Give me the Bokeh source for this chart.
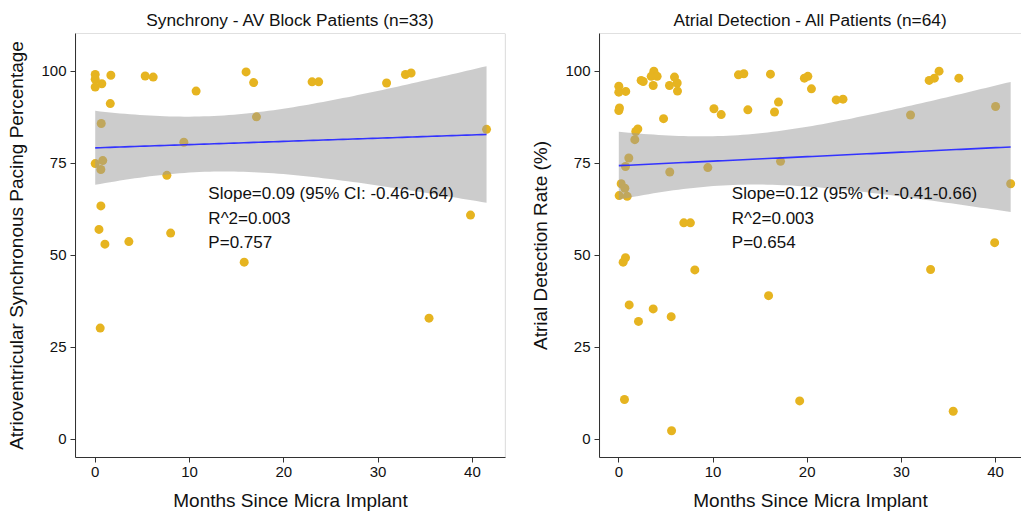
import numpy as np
from bokeh.plotting import figure
from bokeh.layouts import row
from bokeh.models import Range1d, Label, BoxAnnotation
from bokeh.embed import file_html
from bokeh.resources import INLINE

# ---- data: AV block patients (synchrony) ----
av_months = [0.0, 0.0, 0.0, 0.7, 1.66, 5.3, 6.15, 16.0, 16.8, 10.7, 1.6, 0.64, 17.1,
             9.4, 0.0, 0.8, 0.6, 7.6, 0.6, 0.4, 1.03, 3.57, 8.0, 15.8, 0.53, 35.4,
             23.0, 23.7, 30.9, 32.9, 33.5, 41.5, 39.8]
av_pct = [99.1, 97.8, 95.7, 96.6, 98.9, 98.7, 98.4, 99.8, 96.9, 94.6, 91.2, 85.8, 87.6,
          80.7, 74.9, 75.7, 73.3, 71.7, 63.4, 57.0, 53.0, 53.7, 56.0, 48.1, 30.2, 32.9,
          97.1, 97.1, 96.8, 99.1, 99.5, 84.2, 60.9]

# ---- data: all patients (atrial detection) ----
ad_months = [0.0, 0.0, 0.74, 0.07, 0.0, 2.37, 2.59, 3.72, 3.44, 4.07, 3.65, 5.91, 6.2,
             5.38, 6.23, 4.75, 2.02, 1.8, 1.7, 1.06, 0.71, 0.25, 0.64, 0.04, 0.89, 5.41,
             9.45, 10.1, 10.87, 12.7, 13.27, 13.7, 16.1, 16.95, 16.53, 17.17, 19.7, 20.07,
             20.45, 6.9, 7.6,
             23.08, 23.8, 30.97, 32.95, 33.5, 34.0, 36.1, 40.0, 41.6,
             0.46, 0.71, 8.07, 15.9, 33.1, 39.9, 1.1, 3.65, 2.09, 5.56, 0.6, 19.2, 35.5, 5.6]
ad_rate = [95.9, 94.3, 94.5, 90.0, 89.3, 97.5, 97.2, 100.0, 98.6, 98.6, 96.1, 98.4, 96.8,
           96.1, 94.6, 87.1, 84.3, 83.6, 81.4, 76.4, 74.1, 69.4, 68.2, 66.2, 66.0, 72.6,
           73.8, 89.8, 88.2, 99.0, 99.3, 89.5, 99.2, 91.6, 88.9, 75.5, 98.1, 98.6,
           95.2, 58.8, 58.8,
           92.2, 92.4, 88.1, 97.5, 98.1, 100.0, 98.1, 90.4, 69.4,
           48.1, 49.3, 46.0, 39.0, 46.1, 53.4, 36.5, 35.4, 32.0, 33.3, 10.8, 10.4, 7.6, 2.3]

x_ticks = [0, 10, 20, 30, 40]
y_ticks = [0, 25, 50, 75, 100]

av_title = "Synchrony - AV Block Patients (n=33)"
ad_title = "Atrial Detection - All Patients (n=64)"
av_ylabel = "Atrioventricular Synchronous Pacing Percentage"
ad_ylabel = "Atrial Detection Rate (%)"
xlabel = "Months Since Micra Implant"
av_notes = ["Slope=0.09 (95% CI: -0.46-0.64)", "R^2=0.003", "P=0.757"]
ad_notes = ["Slope=0.12 (95% CI: -0.41-0.66)", "R^2=0.003", "P=0.654"]
note_x = 12
note_y = [66.8, 60.0, 53.4]

FONT = "Liberation Sans"


def lm_band(x, y, tq):
    x = np.asarray(x, float)
    y = np.asarray(y, float)
    n = len(x)
    xb = x.mean()
    sxx = ((x - xb) ** 2).sum()
    b = ((x - xb) * (y - y.mean())).sum() / sxx
    a = y.mean() - b * xb
    s = np.sqrt(((y - (a + b * x)) ** 2).sum() / (n - 2))
    xs = np.linspace(x.min(), x.max(), 80)
    yh = a + b * xs
    se = s * np.sqrt(1.0 / n + (xs - xb) ** 2 / sxx)
    return xs, yh, yh - tq * se, yh + tq * se


def panel(xv, yv, tq, title, ylabel, notes, width, mbl, mbr, xr, cropped=False):
    p = figure(width=width, height=513, output_backend="svg", toolbar_location=None,
               x_range=Range1d(*xr), y_range=Range1d(-4.97, 110.24),
               min_border_left=mbl, min_border_right=mbr,
               min_border_top=33, min_border_bottom=56)
    p.title.text = title
    p.title.align = "center"
    p.title.text_font = FONT
    p.title.text_font_size = "17.3px"
    p.title.text_font_style = "normal"
    p.title.text_color = "#111111"
    p.title.standoff = 8
    p.xgrid.visible = False
    p.ygrid.visible = False
    p.outline_line_color = None
    p.background_fill_color = "white"
    p.border_fill_color = "white"

    p.scatter(xv, yv, size=9, fill_color="#E6B420", line_color=None)
    xs, yh, lo, hi = lm_band(xv, yv, tq)
    p.varea(x=xs, y1=lo, y2=hi, fill_color="#999999", fill_alpha=0.5)
    p.line(xs, yh, line_color="#3333FF", line_width=1.6)

    for t, yy in zip(notes, note_y):
        p.add_layout(Label(x=note_x, y=yy, text=t, text_align="left",
                           text_baseline="middle", text_font=FONT,
                           text_font_size="17px", text_color="#111111"))

    if cropped:
        box = BoxAnnotation(right=1000, fill_alpha=0, line_color="#333333", line_width=1.2)
    else:
        box = BoxAnnotation(fill_alpha=0, line_color="#333333", line_width=1.2)
    p.add_layout(box)

    for ax, ticks in ((p.xaxis[0], x_ticks), (p.yaxis[0], y_ticks)):
        ax.ticker = ticks
        ax.minor_tick_line_color = None
        ax.major_tick_in = 0
        ax.major_tick_out = 5
        ax.major_tick_line_color = "#333333"
        ax.major_tick_line_width = 1
        ax.axis_line_color = "#333333"
        ax.major_label_text_font = FONT
        ax.major_label_text_font_size = "15px"
        ax.major_label_text_color = "#111111"
        ax.axis_label_text_font = FONT
        ax.axis_label_text_font_size = "19px"
        ax.axis_label_text_font_style = "normal"
        ax.axis_label_text_color = "#111111"
    p.xaxis.axis_label = xlabel
    p.yaxis.axis_label = ylabel
    p.xaxis.major_label_standoff = 4
    p.yaxis.major_label_standoff = 4
    p.xaxis.axis_label_standoff = 10
    p.yaxis.axis_label_standoff = 11
    return p


p1 = panel(av_months, av_pct, 2.0395, av_title, av_ylabel, av_notes,
           520, 75, 15, (-2.09, 43.51))
p2 = panel(ad_months, ad_rate, 1.9990, ad_title, ad_ylabel, ad_notes,
           501, 79, 0, (-2.05, 42.75), cropped=True)

layout = row(p1, p2)
open("out.html", "w").write(file_html(layout, INLINE))
